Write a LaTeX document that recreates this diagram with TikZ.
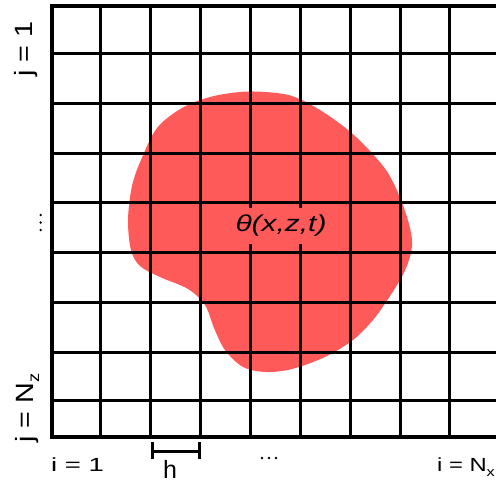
\documentclass[tikz,border=0pt]{standalone}
\usepackage{fontspec}
\setmainfont{Liberation Sans}
\definecolor{blobred}{RGB}{255,90,90}
\begin{document}
\begin{tikzpicture}[x=1pt,y=-1pt,
  gridline/.style={line width=3pt,black},
  borderline/.style={line width=4pt,black,line join=miter},
  hlabel/.style={inner sep=0pt,font=\fontsize{19}{19}\selectfont},
  vlabel/.style={inner sep=0pt,rotate=90,anchor=base,font=\fontsize{25}{25}\selectfont},
  dotmark/.style={fill=black,draw=none,circle,inner sep=0pt,minimum size=2.6pt}]
\useasboundingbox (0,0) rectangle (496,482);
\fill[white] (0,0) rectangle (496,482);
% blob
\fill[blobred] plot[smooth cycle,tension=0.55] coordinates {
 (265,92) (292,96) (320,110) (348,130) (370,151) (388,173) (401,200) (410,228) (412,246)
 (408,263) (400,280) (386,302) (373,320) (353,340) (325,357) (292,369) (266,372)
 (243,367) (225,350) (214,328) (205,305) (188,289) (160,277) (140,266) (131,250)
 (128,220) (132,186) (141,160) (157,128) (182,108) (210,97) (240,92)};
% grid
\foreach \x in {100,150,200,250,300,350,400,449} \draw[gridline] (\x,6) -- (\x,437);
\foreach \y in {53,103,153,202,252,302,352,400} \draw[gridline] (52,\y) -- (502,\y);
\draw[borderline] (502,6) -- (52,6) -- (52,437) -- (502,437);
% field label
\node[fill=blobred,minimum width=107pt,minimum height=36pt,inner sep=0pt,
      font=\fontsize{23}{23}\selectfont\itshape] (theta) at (281,226) {\scalebox{1.3}[1]{θ(x,z,t)}};
% vertical labels
\node[vlabel] (lj1) at (32,49) {\scalebox{1.15}[1]{j = 1}};
\node[vlabel] (ljn) at (33,408) {\scalebox{1.15}[1]{j = N\raisebox{-6pt}{\fontsize{16}{16}\selectfont z}}};
\node[dotmark] (vd1) at (40.7,215) {};
\node[dotmark] (vd2) at (40.7,222.5) {};
\node[dotmark] (vd3) at (40.7,230) {};
% horizontal labels
\node[hlabel,anchor=base west] (li1) at (51,471) {\scalebox{1.45}[1]{i = 1}};
\node[hlabel,anchor=base west] (lin) at (437,471) {\scalebox{1.25}[1]{i = N\raisebox{-5pt}{\fontsize{13}{13}\selectfont x}}};
\node[dotmark] (hd1) at (262,458) {};
\node[dotmark] (hd2) at (269,458) {};
\node[dotmark] (hd3) at (276,458) {};
% spacing marker h
\coordinate (hl) at (152,451);
\coordinate (hr) at (199,451);
\draw[line width=3pt] ([yshift=-8pt]hl) -- ([yshift=9pt]hl);
\draw[line width=3pt] ([yshift=-8pt]hr) -- ([yshift=9pt]hr);
\draw[line width=3pt] (hl) -- (hr);
\node[inner sep=0pt,anchor=base,font=\fontsize{25}{25}\selectfont] (lh) at (170,478) {h};
\end{tikzpicture}
\end{document}
